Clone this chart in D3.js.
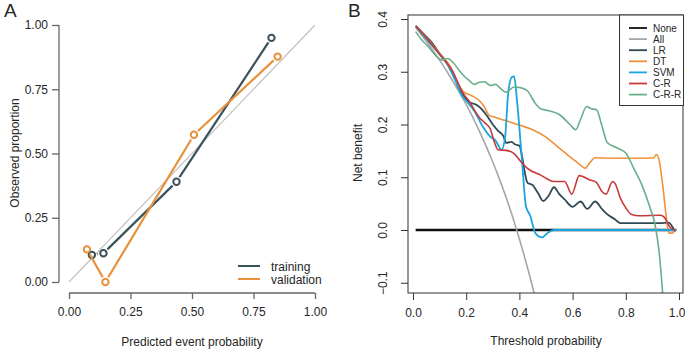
<!DOCTYPE html>
<html><head><meta charset="utf-8">
<script src="https://cdn.jsdelivr.net/npm/d3@7"></script>
<style>body{margin:0;background:#fff}svg{display:block}text{font-family:"Liberation Sans",Arial,sans-serif}</style>
</head><body><svg id="c" width="685" height="349"></svg>
<script>
// ---------- Panel A data ----------
const calTicks = [0, 0.25, 0.5, 0.75, 1];
const calTickLabels = ["0.00","0.25","0.50","0.75","1.00"];
const trainingX = [0.093, 0.140, 0.437, 0.823];
const trainingY = [0.105, 0.112, 0.390, 0.950];
const validationX = [0.073, 0.148, 0.508, 0.848];
const validationY = [0.127, 0.000, 0.573, 0.877];
const calSeries = ["training", "validation"];

// ---------- Panel B data ----------
const dcaXTicks = [0, 0.2, 0.4, 0.6, 0.8, 1.0];
const dcaYTicks = [-0.1, 0, 0.1, 0.2, 0.3, 0.4];
const dcaNames = ["None","All","LR","DT","SVM","C-R","C-R-R"];
const noneT = [0.01, 0.99];
const noneV = [0, 0];
const allT = [0.01,0.05,0.10,0.15,0.20,0.25,0.30,0.35,0.40,0.45,0.47];
const allV = [0.384,0.358,0.322,0.282,0.238,0.187,0.129,0.062,-0.017,-0.109,-0.150];
const lrT = [0.01,0.04,0.07,0.10,0.13,0.15,0.17,0.19,0.21,0.24,0.26,0.28,0.30,0.32,0.34,0.35,0.37,0.385,0.40,0.41,0.42,0.43,0.45,0.47,0.49,0.51,0.53,0.55,0.57,0.60,0.63,0.655,0.685,0.71,0.73,0.76,0.78,0.85,0.93,0.96,0.985];
const lrV = [0.387,0.372,0.356,0.335,0.315,0.298,0.275,0.255,0.243,0.237,0.228,0.215,0.200,0.188,0.178,0.165,0.167,0.162,0.160,0.140,0.110,0.090,0.085,0.070,0.055,0.065,0.081,0.068,0.058,0.044,0.054,0.040,0.054,0.040,0.030,0.020,0.013,0.013,0.013,0.014,-0.003];
const dtT = [0.01,0.05,0.10,0.14,0.17,0.19,0.22,0.25,0.27,0.285,0.30,0.35,0.40,0.45,0.50,0.55,0.60,0.63,0.647,0.665,0.685,0.75,0.85,0.905,0.915,0.925,0.94,0.952,0.962,0.975,0.985];
const dtV = [0.387,0.365,0.335,0.310,0.275,0.262,0.255,0.245,0.232,0.218,0.215,0.207,0.199,0.190,0.176,0.155,0.135,0.123,0.117,0.128,0.137,0.136,0.136,0.137,0.143,0.133,0.080,0.025,-0.006,-0.006,0.003];
const svmT = [0.01,0.05,0.10,0.13,0.16,0.18,0.20,0.23,0.26,0.29,0.31,0.333,0.346,0.358,0.372,0.38,0.392,0.41,0.425,0.44,0.46,0.485,0.505,0.53,0.99];
const svmV = [0.387,0.362,0.333,0.313,0.282,0.258,0.245,0.226,0.198,0.177,0.170,0.152,0.175,0.260,0.290,0.291,0.240,0.130,0.044,0.028,-0.006,-0.014,-0.006,0,0];
const crT = [0.01,0.04,0.07,0.10,0.13,0.15,0.17,0.19,0.21,0.23,0.25,0.27,0.29,0.305,0.32,0.35,0.38,0.41,0.43,0.48,0.53,0.57,0.597,0.625,0.665,0.69,0.71,0.726,0.75,0.76,0.78,0.80,0.82,0.85,0.93,0.945,0.965,0.985];
const crV = [0.387,0.370,0.352,0.333,0.315,0.300,0.278,0.258,0.245,0.228,0.213,0.203,0.192,0.168,0.152,0.151,0.145,0.127,0.117,0.104,0.092,0.092,0.068,0.103,0.095,0.090,0.073,0.068,0.092,0.088,0.060,0.042,0.030,0.027,0.028,0.024,0.006,-0.001];
const crrT = [0.01,0.03,0.06,0.09,0.11,0.13,0.15,0.17,0.19,0.21,0.23,0.25,0.27,0.29,0.31,0.33,0.35,0.38,0.41,0.43,0.46,0.48,0.51,0.55,0.59,0.612,0.63,0.653,0.67,0.69,0.71,0.73,0.77,0.80,0.83,0.86,0.89,0.91,0.925,0.94];
const crrV = [0.376,0.362,0.346,0.328,0.322,0.325,0.318,0.305,0.293,0.284,0.276,0.280,0.281,0.274,0.276,0.268,0.261,0.271,0.269,0.264,0.240,0.230,0.226,0.219,0.200,0.190,0.210,0.234,0.230,0.228,0.198,0.166,0.155,0.146,0.117,0.086,0.044,0.010,-0.040,-0.130];

const calColors = {training:"#3a525b", validation:"#e8903a"};
const dcaColors = {"None":"#111111","All":"#a6a6a6","LR":"#2f4a55","DT":"#ef9139","SVM":"#1ba4de","C-R":"#c63b38","C-R-R":"#6bae8c"};
const dcaWidths = {"None":2.6,"All":1.6,"LR":1.8,"DT":1.6,"SVM":1.8,"C-R":1.6,"C-R-R":1.6};

const svg = d3.select("#c");
const txt = "#262626", axc = "#666";

// ================= Panel A =================
const ax = d3.scaleLinear().domain([0,1]).range([69,315]);
const ay = d3.scaleLinear().domain([0,1]).range([282,25]);
const gA = svg.append("g");
gA.append("text").attr("x",4).attr("y",17).attr("font-size",19).attr("fill",txt).text("A");

const yAx = gA.append("g").attr("transform","translate(59,0)")
  .call(d3.axisLeft(ay).tickValues(calTicks).tickFormat((d,i)=>calTickLabels[i]).tickSize(7).tickPadding(4));
const xAx = gA.append("g").attr("transform","translate(0,293)")
  .call(d3.axisBottom(ax).tickValues(calTicks).tickFormat((d,i)=>calTickLabels[i]).tickSize(6).tickPadding(8));
[yAx,xAx].forEach(g=>{
  g.select(".domain").attr("stroke",axc).attr("stroke-width",1.3).attr("d", g===yAx? "M0,"+ay(1)+"V"+ay(0) : "M"+ax(0)+",0H"+ax(1));
  g.selectAll(".tick line").attr("stroke",axc).attr("stroke-width",1.3);
  g.selectAll(".tick text").attr("font-size",12).attr("fill",txt).attr("font-family","Liberation Sans, Arial, sans-serif");
});
gA.append("text").attr("x",192).attr("y",346).attr("text-anchor","middle").attr("font-size",12).attr("fill",txt).text("Predicted event probability");
gA.append("text").attr("transform","translate(19,153) rotate(-90)").attr("text-anchor","middle").attr("font-size",12).attr("fill",txt).text("Observed proportion");

gA.append("line").attr("x1",ax(0)).attr("y1",ay(0)).attr("x2",ax(1)).attr("y2",ay(1)).attr("stroke","#c4c4c4").attr("stroke-width",1.3);

function drawCal(xs, ys, col){
  const pts = xs.map((x,i)=>[ax(x), ay(ys[i])]);
  const gap = 5.5;
  for (let i=0;i<pts.length-1;i++){
    const [x1,y1]=pts[i],[x2,y2]=pts[i+1];
    const L=Math.hypot(x2-x1,y2-y1), ux=(x2-x1)/L, uy=(y2-y1)/L;
    gA.append("line").attr("x1",x1+ux*gap).attr("y1",y1+uy*gap).attr("x2",x2-ux*gap).attr("y2",y2-uy*gap)
      .attr("stroke",col).attr("stroke-width",2.2);
  }
  gA.selectAll(null).data(pts).enter().append("circle").attr("cx",d=>d[0]).attr("cy",d=>d[1]).attr("r",3.2)
    .attr("fill","none").attr("stroke",col).attr("stroke-width",2);
}
drawCal(trainingX, trainingY, calColors.training);
drawCal(validationX, validationY, calColors.validation);

calSeries.forEach((s,i)=>{
  const y = 266 + i*13;
  gA.append("line").attr("x1",238).attr("x2",260).attr("y1",y).attr("y2",y).attr("stroke",calColors[s]).attr("stroke-width",2);
  gA.append("text").attr("x",271).attr("y",y+4.5).attr("font-size",12).attr("fill",txt).text(s);
});

// ================= Panel B =================
const bx = d3.scaleLinear().domain([0,1]).range([413,679]);
const by = d3.scaleLinear().domain([0,0.4]).range([230,19]);
const gB = svg.append("g");
gB.append("text").attr("x",348).attr("y",17).attr("font-size",19).attr("fill",txt).text("B");

svg.append("clipPath").attr("id","clipB").append("rect").attr("x",408).attr("y",15).attr("width",275).attr("height",278);

const bxAx = gB.append("g").attr("transform","translate(0,293)")
  .call(d3.axisBottom(bx).tickValues(dcaXTicks).tickFormat(d3.format(".1f")).tickSize(7).tickPadding(8));
bxAx.select(".domain").remove();
bxAx.selectAll(".tick line").attr("stroke","#333").attr("stroke-width",1);
bxAx.selectAll(".tick text").attr("font-size",12).attr("fill",txt).attr("font-family","Liberation Sans, Arial, sans-serif");
// keep the last label inside the window
bxAx.selectAll(".tick text").filter(d=>d===1).attr("text-anchor","end").attr("x",685-bx(1));

const byAx = gB.append("g").attr("transform","translate(408,0)")
  .call(d3.axisLeft(by).tickValues(dcaYTicks).tickFormat(d3.format(".1f")).tickSize(7).tickPadding(0));
byAx.select(".domain").remove();
byAx.selectAll(".tick line").attr("stroke","#333").attr("stroke-width",1);
byAx.selectAll(".tick text").attr("font-size",12).attr("fill",txt).attr("font-family","Liberation Sans, Arial, sans-serif")
  .attr("x",0).attr("dy",0).attr("text-anchor","middle").attr("transform","translate(-25,0) rotate(-90)").attr("y",4);

gB.append("text").attr("x",546).attr("y",345).attr("text-anchor","middle").attr("font-size",12).attr("fill",txt).text("Threshold probability");
gB.append("text").attr("transform","translate(362,153) rotate(-90)").attr("text-anchor","middle").attr("font-size",12).attr("fill",txt).text("Net benefit");

const dcaT = {"None":noneT,"All":allT,"LR":lrT,"DT":dtT,"SVM":svmT,"C-R":crT,"C-R-R":crrT};
const dcaV = {"None":noneV,"All":allV,"LR":lrV,"DT":dtV,"SVM":svmV,"C-R":crV,"C-R-R":crrV};
const lineGen = d3.line().x(d=>bx(d[0])).y(d=>by(d[1])).curve(d3.curveMonotoneX);
const curves = gB.append("g").attr("clip-path","url(#clipB)");
dcaNames.forEach(n=>{
  const data = dcaT[n].map((t,i)=>[t, dcaV[n][i]]);
  curves.append("path").attr("d",lineGen(data)).attr("fill","none").attr("stroke",dcaColors[n])
    .attr("stroke-width",dcaWidths[n]).attr("stroke-linejoin","round");
});

gB.append("rect").attr("x",408).attr("y",15).attr("width",275).attr("height",278).attr("fill","none").attr("stroke","#333").attr("stroke-width",1);

gB.append("rect").attr("x",619.5).attr("y",15).attr("width",64).attr("height",90.5).attr("fill","#fff").attr("stroke","#333").attr("stroke-width",1);
dcaNames.forEach((n,i)=>{
  const y = 28 + i*11.1;
  gB.append("line").attr("x1",629).attr("x2",647).attr("y1",y).attr("y2",y).attr("stroke",dcaColors[n]).attr("stroke-width",1.8);
  gB.append("text").attr("x",653).attr("y",y+3.5).attr("font-size",10).attr("fill",txt).text(n);
});
</script></body></html>
